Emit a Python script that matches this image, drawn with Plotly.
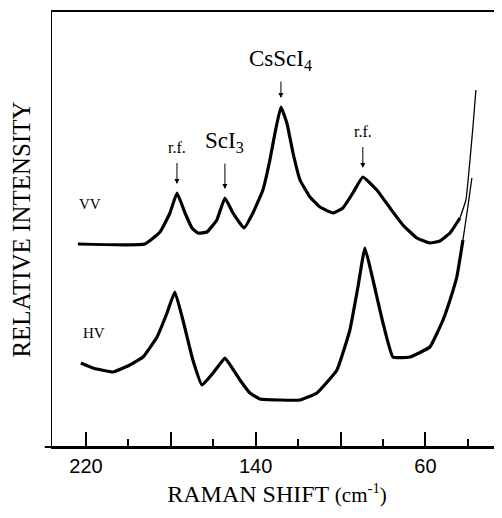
import plotly.graph_objects as go

# ---- data (Raman shift in cm-1, intensity in arbitrary units) ----
vv_shift = [223.8, 192.2, 185.1, 180.4, 177.1, 173.3, 170.0, 167.2, 163.0, 158.3,
            154.5, 150.7, 145.5, 141.3, 136.6, 133.3, 130.9, 128.1, 125.3, 122.4,
            119.1, 114.4, 109.7, 103.6, 98.9, 94.2, 89.5, 82.9, 76.7, 70.6,
            64.0, 57.9, 53.2, 48.4, 43.7, 40.9, 40.0, 39.0, 37.6, 36.2]
vv_int = [203, 203, 215, 234, 254, 234, 219, 214, 215, 227,
          249, 234, 219, 234, 257, 287, 314, 340, 324, 294,
          267, 250, 240, 234, 239, 254, 270, 257, 239, 222,
          209, 204, 206, 214, 229, 247, 264, 287, 320, 357]

hv_shift = [222.4, 216.7, 207.3, 199.3, 193.1, 186.5, 181.8, 178.1, 174.3, 169.6,
            165.3, 160.1, 154.5, 151.7, 147.4, 142.7, 138.0, 128.6, 119.1, 111.1,
            101.7, 95.6, 91.8, 88.5, 84.7, 80.0, 75.3, 67.3, 57.9, 51.7,
            48.4, 45.2, 42.3, 40.0, 38.1]
hv_int = [84, 79, 75, 82, 90, 110, 134, 155, 127, 87,
          62, 74, 89, 81, 67, 54, 48, 47, 47, 54,
          77, 117, 160, 199, 167, 124, 90, 90, 100, 127,
          147, 170, 207, 240, 269]

x_label_vals = [220, 140, 60]
x_label_text = ["220", "140", "60"]
x_long_unlabelled = [180, 100]
x_minor_vals = [200, 160, 120, 80, 40]

peak_labels = ["r.f.", "ScI<sub>3</sub>", "CsScI<sub>4</sub>", "r.f."]
peak_shift = [177.1, 154.5, 128.1, 89.5]
peak_int = [254, 249, 340, 270]
label_int = [300, 305, 387, 316]
label_size = [16, 23, 23, 16]

series_names = ["VV", "HV"]
series_label_shift = [218.0, 216.0]
series_label_int = [243, 114]

SERIF = "Liberation Serif, Times New Roman, serif"
THIN_BELOW = 42.0
X_RANGE = [236.0, 23.9]

fig = go.Figure()


def add_series(xs, ys):
    thick_x = [x for x in xs if x >= THIN_BELOW]
    thick_y = [y for x, y in zip(xs, ys) if x >= THIN_BELOW]
    n = len(thick_x)
    fig.add_trace(go.Scatter(x=thick_x, y=thick_y, mode="lines",
                             line=dict(color="black", width=3.2,
                                       shape="spline", smoothing=0.35),
                             showlegend=False, hoverinfo="skip"))
    fig.add_trace(go.Scatter(x=list(xs[n - 1:]), y=list(ys[n - 1:]), mode="lines",
                             line=dict(color="black", width=1.3,
                                       shape="spline", smoothing=0.35),
                             showlegend=False, hoverinfo="skip"))


add_series(vv_shift, vv_int)
add_series(hv_shift, hv_int)

annotations = []
for lab, xs, yi, yl, sz in zip(peak_labels, peak_shift, peak_int, label_int, label_size):
    tip = yi + 9
    annotations.append(dict(x=xs, y=tip, text=lab, showarrow=True,
                            ax=0, ay=-(yl - tip), startstandoff=6,
                            arrowhead=2, arrowsize=1, arrowwidth=1,
                            arrowcolor="black",
                            font=dict(family=SERIF, size=sz, color="black")))

for name, xs, yi in zip(series_names, series_label_shift, series_label_int):
    annotations.append(dict(x=xs, y=yi, text=name, showarrow=False,
                            font=dict(family=SERIF, size=15, color="black"),
                            xanchor="center", yanchor="middle"))

# the page body has an 8px margin, so the figure is 8px smaller than the window
fig.update_layout(
    width=494, height=510,
    margin=dict(l=44, r=0, t=4, b=71),
    paper_bgcolor="white", plot_bgcolor="white",
    annotations=annotations,
    shapes=[dict(type="line", xref="paper", yref="paper", x0=-0.016, x1=1,
                 y0=0, y1=0, line=dict(color="black", width=2))],
    xaxis=dict(range=X_RANGE, showgrid=False, zeroline=False,
               showline=True, linecolor="black", linewidth=2, mirror=True,
               tickmode="array", tickvals=x_label_vals, ticktext=x_label_text,
               ticks="inside", ticklen=15, tickwidth=1.5, tickcolor="black",
               minor=dict(tickmode="array", tickvals=x_minor_vals,
                          ticks="inside", ticklen=8, tickwidth=1.5,
                          tickcolor="black", showgrid=False),
               tickfont=dict(family="Liberation Sans, Arial, sans-serif",
                             size=20, color="black"),
               automargin=False,
               title=dict(text="RAMAN SHIFT <span style='font-size:21px'>(cm<sup>-1</sup>)</span>",
                          font=dict(family=SERIF, size=24, color="black"),
                          standoff=9)),
    xaxis2=dict(range=X_RANGE, overlaying="x", anchor="y", side="bottom",
                showgrid=False, zeroline=False, showline=False,
                tickmode="array", tickvals=x_long_unlabelled,
                showticklabels=False, ticks="inside", ticklen=15,
                tickwidth=1.5, tickcolor="black"),
    yaxis=dict(range=[0, 435], showgrid=False, zeroline=False,
               showline=True, linecolor="black", linewidth=1.2,
               showticklabels=False, ticks="", automargin=False,
               title=dict(text="RELATIVE INTENSITY",
                          font=dict(family=SERIF, size=25, color="black"),
                          standoff=18)),
)

# invisible trace so the second x axis is drawn
fig.add_trace(go.Scatter(x=[x_long_unlabelled[0]], y=[None], xaxis="x2",
                         mode="lines", showlegend=False, hoverinfo="skip"))

fig.write_html("out.html")
